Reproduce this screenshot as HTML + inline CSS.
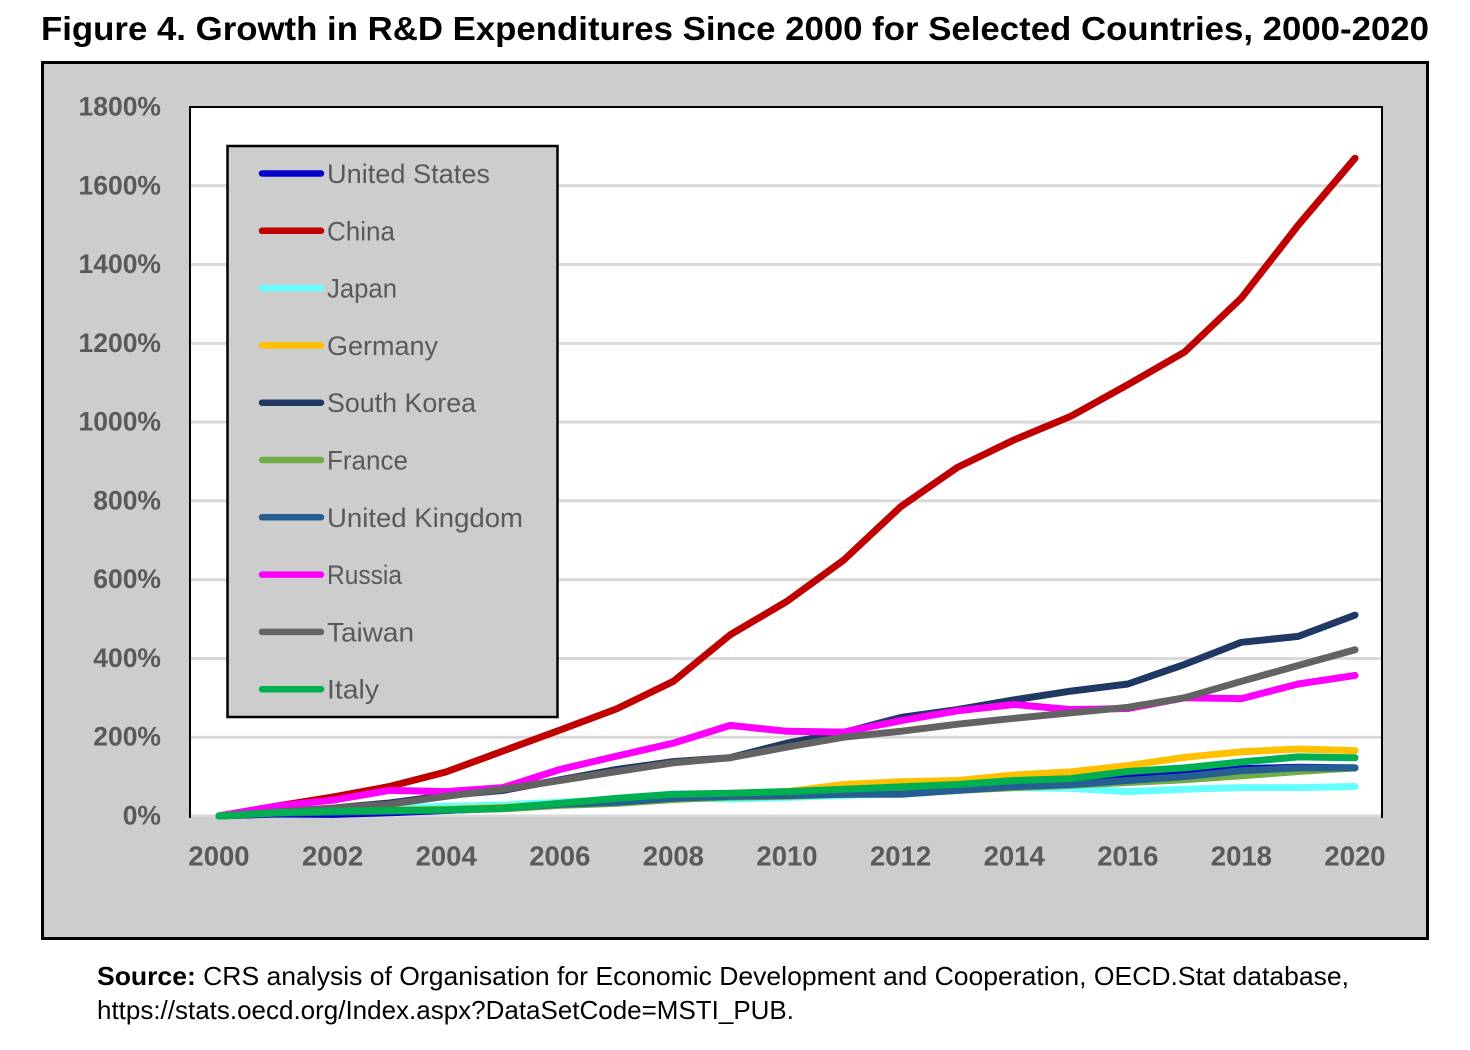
<!DOCTYPE html>
<html lang="en">
<head>
<meta charset="utf-8">
<title>Figure 4</title>
<style>
html,body{margin:0;padding:0;background:#fff;width:1470px;height:1050px;overflow:hidden}
svg{display:block;font-family:"Liberation Sans",sans-serif}
</style>
</head>
<body>
<svg id="chart" xmlns="http://www.w3.org/2000/svg" width="1470" height="1050" viewBox="0 0 1470 1050">
  <rect x="0" y="0" width="1470" height="1050" fill="#fff"/>
  <text x="41" y="40" font-size="33" font-weight="700" fill="#000" textLength="1388" lengthAdjust="spacingAndGlyphs">Figure 4. Growth in R&amp;D Expenditures Since 2000 for Selected Countries, 2000-2020</text>
  <rect x="42.5" y="62.5" width="1385" height="876" fill="#cdcdcd" stroke="#000" stroke-width="3"/>
  <rect x="190" y="107" width="1192" height="709" fill="#fff"/>
  <g id="grid"></g>
  <path d="M190 818V107H1382V818" fill="none" stroke="#000" stroke-width="2"/>
  <g id="yticks"></g>
  <g id="xticks"></g>
  <g id="lines"></g>
  <rect x="227.5" y="146" width="330" height="571" fill="#cdcdcd" stroke="#000" stroke-width="2.5"/>
  <g id="legend"></g>
  <text x="97" y="985" font-size="26" fill="#000" textLength="1252" lengthAdjust="spacingAndGlyphs"><tspan font-weight="700">Source:</tspan> CRS analysis of Organisation for Economic Development and Cooperation, OECD.Stat database,</text>
  <text x="97" y="1019" font-size="26" fill="#000" textLength="697" lengthAdjust="spacingAndGlyphs">https://stats.oecd.org/Index.aspx?DataSetCode=MSTI_PUB.</text>
</svg>
<script>
const years = [2000,2001,2002,2003,2004,2005,2006,2007,2008,2009,2010,2011,2012,2013,2014,2015,2016,2017,2018,2019,2020];
const yTickValues = [0,200,400,600,800,1000,1200,1400,1600,1800];
const xTickYears = [2000,2002,2004,2006,2008,2010,2012,2014,2016,2018,2020];

const unitedStates = [0,5,4,8,14,20,30,38,45,50,52,57,57,65,75,85,98,108,120,124,122];
const china = [0,25,48,75,112,165,218,272,342,460,545,650,785,885,955,1015,1095,1178,1315,1500,1670];
const japan = [0,10,15,20,25,28,35,42,48,43,47,52,57,67,72,70,62,68,72,72,75];
const germany = [0,8,12,15,17,22,30,38,50,57,62,80,87,90,104,112,128,149,163,170,166];
const southKorea = [0,10,20,33,52,65,92,118,138,148,185,212,250,270,295,317,335,385,441,456,510];
const france = [0,8,12,14,15,18,27,32,42,48,50,55,58,65,72,78,85,92,102,113,122];
const unitedKingdom = [0,7,10,12,15,20,30,35,45,50,52,55,55,65,75,80,90,100,115,122,122];
const russia = [0,25,40,65,62,72,118,152,185,230,215,213,242,267,283,270,273,300,298,335,357];
const taiwan = [0,10,20,30,50,68,90,113,135,148,175,200,215,233,248,262,276,300,342,382,422];
const italy = [0,8,12,14,16,20,32,45,55,58,62,68,74,80,90,95,113,122,137,150,148];

const seriesNames = ['United States','China','Japan','Germany','South Korea','France','United Kingdom','Russia','Taiwan','Italy'];
const seriesValues = [unitedStates,china,japan,germany,southKorea,france,unitedKingdom,russia,taiwan,italy];
const seriesColors = ['#0000cc','#c00000','#66ffff','#ffc000','#1f3864','#70ad47','#255e91','#ff00ff','#636363','#00b050'];
const legendTextWidths = [163,68,70,111,149,81,196,75,87,52];

const NS = 'http://www.w3.org/2000/svg';
function xScale(year){ return 219 + (year - 2000) * (1355 - 219) / 20; }
function yScale(v){ return 816 - v * (816 - 107) / 1800; }
function slug(s){ return s.toLowerCase().replace(/\s+/g,'-'); }
function make(tag, attrs){
  const el = document.createElementNS(NS, tag);
  for (const k in attrs) el.setAttribute(k, attrs[k]);
  return el;
}

const grid = document.getElementById('grid');
yTickValues.forEach(function(v){
  if (v === 1800) return;
  const line = make('line', {x1:190, x2:1382, y1:yScale(v), y2:yScale(v), stroke:'#d9d9d9', 'stroke-width':3});
  
  
  grid.appendChild(line);
});

const yticks = document.getElementById('yticks');
yTickValues.forEach(function(v){
  const t = make('text', {x:161, y:yScale(v)+8.5, 'text-anchor':'end', 'font-size':26.5, 'font-weight':700, fill:'#595959'});
  t.textContent = v + '%';
  
  
  yticks.appendChild(t);
});

const xticks = document.getElementById('xticks');
xTickYears.forEach(function(y){
  const t = make('text', {x:xScale(y), y:865.5, 'text-anchor':'middle', 'font-size':27.5, 'font-weight':700, fill:'#595959'});
  t.textContent = y;
  
  
  xticks.appendChild(t);
});

const linesGroup = document.getElementById('lines');
seriesValues.forEach(function(vals, i){
  const pts = vals.map(function(v, j){ return xScale(years[j]).toFixed(1) + ',' + yScale(v).toFixed(1); }).join(' ');
  const pl = make('polyline', {points:pts, fill:'none', stroke:seriesColors[i], 'stroke-width':7, 'stroke-linejoin':'round', 'stroke-linecap':'round'});
  
  
  linesGroup.appendChild(pl);
});

const legend = document.getElementById('legend');
seriesNames.forEach(function(name, i){
  const cy = 173.5 + i * 57.3;
  const sw = make('line', {x1:262, x2:321, y1:cy, y2:cy, stroke:seriesColors[i], 'stroke-width':6.5, 'stroke-linecap':'round'});
  
  
  legend.appendChild(sw);
  const t = make('text', {x:327, y:cy+9.5, 'font-size':27, fill:'#595959', textLength:legendTextWidths[i], lengthAdjust:'spacingAndGlyphs'});
  t.textContent = name;
  
  
  legend.appendChild(t);
});
</script>
</body>
</html>
